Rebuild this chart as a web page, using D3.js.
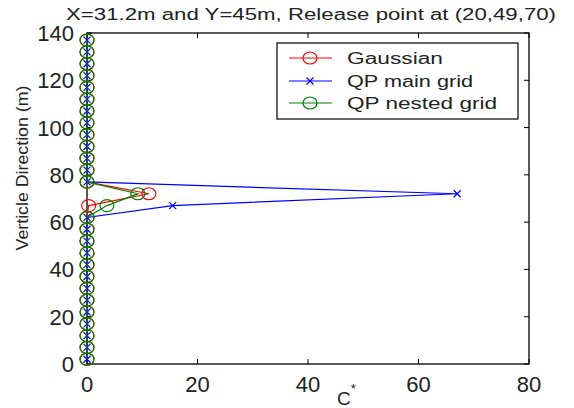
<!DOCTYPE html>
<html><head><meta charset="utf-8">
<script src="https://cdn.jsdelivr.net/npm/d3@7"></script>
<style>body{margin:0;background:#fff}svg{display:block}text{font-family:"Liberation Sans",Arial,sans-serif;fill:#222}</style>
</head><body><svg id="c" width="574" height="408"></svg>
<script>
const heights = [2,7,12,17,22,27,32,37,42,47,52,57,62,67,72,77,82,87,92,97,102,107,112,117,122,127,132,137];
const gaussian = [0,0,0,0,0,0,0,0,0,0,0,0,0,0.3,11.2,0,0,0,0,0,0,0,0,0,0,0,0,0];
const qpMain   = [0,0,0,0,0,0,0,0,0,0,0,0,0,15.5,67,0,0,0,0,0,0,0,0,0,0,0,0,0];
const qpNested = [0,0,0,0,0,0,0,0,0,0,0,0,0,3.6,9.2,0,0,0,0,0,0,0,0,0,0,0,0,0];
const xTicks = [0,20,40,60,80];
const yTicks = [0,20,40,60,80,100,120,140];
const seriesNames = ["Gaussian","QP main grid","QP nested grid"];
const title = "X=31.2m and Y=45m, Release point at (20,49,70)";

const svg = d3.select("#c");
const L=87,R=529,T=33,B=364;
const x = d3.scaleLinear().domain([0,80]).range([L,R]);
const y = d3.scaleLinear().domain([0,140]).range([B,T]);

// axes box
svg.append("rect").attr("x",L).attr("y",T).attr("width",R-L).attr("height",B-T)
  .attr("fill","none").attr("stroke","#000").attr("stroke-width",1.3);

const tl=5;
const g=svg.append("g").attr("stroke","#000").attr("stroke-width",1);
xTicks.forEach(t=>{
  g.append("line").attr("x1",x(t)).attr("x2",x(t)).attr("y1",B).attr("y2",B-tl);
  g.append("line").attr("x1",x(t)).attr("x2",x(t)).attr("y1",T).attr("y2",T+tl);
});
yTicks.forEach(t=>{
  g.append("line").attr("x1",L).attr("x2",L+tl).attr("y1",y(t)).attr("y2",y(t));
  g.append("line").attr("x1",R).attr("x2",R-tl).attr("y1",y(t)).attr("y2",y(t));
});
svg.selectAll(".xt").data(xTicks).enter().append("text")
  .attr("x",d=>x(d)).attr("y",392).attr("text-anchor","middle")
  .attr("font-size",22).text(d=>d);
svg.selectAll(".yt").data(yTicks).enter().append("text")
  .attr("x",74).attr("y",d=>y(d)+8).attr("text-anchor","end")
  .attr("font-size",22).text(d=>d);

// data
const colors=["#ff0000","#0000ff","#008000"];
const all=[gaussian,qpMain,qpNested];
const line=d3.line().x(d=>x(d[1])).y(d=>y(d[0]));
function circleMarker(sel,cx,cy,col){
  sel.append("ellipse").attr("cx",cx).attr("cy",cy).attr("rx",7).attr("ry",6)
    .attr("fill","none").attr("stroke",col).attr("stroke-width",1.2);
}
function crossMarker(sel,cx,cy,col){
  const s=3.5;
  sel.append("path").attr("d",`M${cx-s},${cy-s}L${cx+s},${cy+s}M${cx-s},${cy+s}L${cx+s},${cy-s}`)
    .attr("stroke",col).attr("stroke-width",1.2).attr("fill","none");
}
const markerFns=[circleMarker,crossMarker,circleMarker];
all.forEach((vals,i)=>{
  const pts=heights.map((h,j)=>[h,vals[j]]);
  const sg=svg.append("g");
  sg.append("path").datum(pts).attr("d",line).attr("fill","none")
    .attr("stroke",colors[i]).attr("stroke-width",1.2);
  pts.forEach(p=>markerFns[i](sg,x(p[1]),y(p[0]),colors[i]));
});

// title
svg.append("text").attr("x",66).attr("y",20).attr("font-size",16)
  .attr("textLength",490).attr("lengthAdjust","spacingAndGlyphs").text(title);

// axis labels
svg.append("text").attr("transform","translate(28,168) rotate(-90)")
  .attr("text-anchor","middle").attr("font-size",16)
  .attr("textLength",165).attr("lengthAdjust","spacingAndGlyphs")
  .text("Verticle Direction (m)");
const xl=svg.append("text").attr("x",337).attr("y",405).attr("font-size",19);
xl.append("tspan").text("C");
xl.append("tspan").attr("dy",-12).attr("font-size",13).text("*");

// legend
const lg=svg.append("g");
lg.append("rect").attr("x",277).attr("y",43).attr("width",241).attr("height",76)
  .attr("fill","#fff").attr("stroke","#000").attr("stroke-width",1.2);
const rowsY=[58,81,103];
const lens=[96,126,150];
seriesNames.forEach((n,i)=>{
  lg.append("line").attr("x1",289).attr("x2",332).attr("y1",rowsY[i]).attr("y2",rowsY[i])
    .attr("stroke",colors[i]).attr("stroke-width",1.2);
  markerFns[i](lg,310,rowsY[i],colors[i]);
  lg.append("text").attr("x",347).attr("y",rowsY[i]+6).attr("font-size",16)
    .attr("textLength",lens[i]).attr("lengthAdjust","spacingAndGlyphs").text(n);
});
</script></body></html>
